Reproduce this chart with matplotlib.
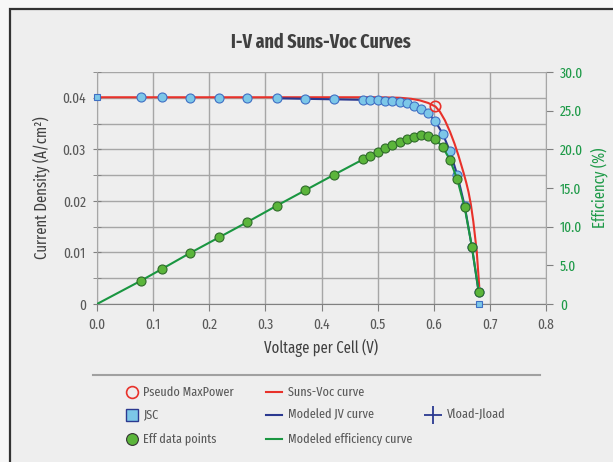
import matplotlib
matplotlib.use("Agg")
import matplotlib.pyplot as plt
from matplotlib import font_manager
from matplotlib.lines import Line2D
from matplotlib.patches import Rectangle

_avail = {f.name for f in font_manager.fontManager.ttflist}
_cands = ['Fira Sans Extra Condensed', 'Barlow Condensed', 'Fira Sans Condensed',
          'Archivo Narrow', 'Liberation Sans Narrow', 'Liberation Sans']
FONT = next((c for c in _cands if c in _avail), 'DejaVu Sans')
plt.rcParams['font.family'] = [FONT, 'DejaVu Sans']

# ---- data ----
jv_v = [0.078, 0.115, 0.166, 0.217, 0.268, 0.320, 0.371, 0.422, 0.474, 0.487, 0.500,
        0.513, 0.526, 0.539, 0.552, 0.564, 0.577, 0.590, 0.603, 0.616, 0.629, 0.642,
        0.655, 0.668, 0.680]
jv_j = [0.0401, 0.0401, 0.0400, 0.0400, 0.0399, 0.0399, 0.0398, 0.0397, 0.0396, 0.0395,
        0.0395, 0.0394, 0.0393, 0.0391, 0.0389, 0.0385, 0.0379, 0.0370, 0.0354, 0.0330,
        0.0296, 0.0250, 0.0191, 0.0110, 0.0023]
eff_pts = [3.0, 4.5, 6.6, 8.6, 10.6, 12.7, 14.7, 16.7, 18.7, 19.2, 19.7, 20.2, 20.6,
           21.0, 21.4, 21.6, 21.8, 21.7, 21.3, 20.3, 18.6, 16.1, 12.5, 7.4, 1.6]

jsc_v = [0.0, 0.680]
jsc_j = [0.0401, 0.0]

pmax_v = [0.603]
pmax_j = [0.0384]

suns_v = [0.0, 0.30, 0.45, 0.50, 0.54, 0.56, 0.575, 0.59, 0.603, 0.611, 0.62,
          0.629, 0.637, 0.644, 0.653, 0.658, 0.662, 0.666, 0.6705, 0.6765, 0.681]
suns_j = [0.0401, 0.0401, 0.0401, 0.0401, 0.0400, 0.0398, 0.0395, 0.0390, 0.0383,
          0.0373, 0.0356, 0.0334, 0.0311, 0.0288, 0.0255, 0.0235, 0.0217, 0.0194,
          0.0160, 0.0103, 0.0035]

model_jv_v = jv_v[5:]
model_jv_j = jv_j[5:]

model_eff_v = [0.0] + jv_v
model_eff = [0.0] + eff_pts

x_ticks = [0.0, 0.1, 0.2, 0.3, 0.4, 0.5, 0.6, 0.7, 0.8]
y_ticks = [0, 0.01, 0.02, 0.03, 0.04]
y_tick_labels = ['0', '0.01', '0.02', '0.03', '0.04']
eff_ticks = [0, 5, 10, 15, 20, 25, 30]
eff_tick_labels = ['0', '5.0', '10.0', '15.0', '20.0', '25.0', '30.0']

# ---- colours ----
GRAY_TXT = '#595959'
GREEN_TXT = '#1e9a48'
GRID = '#a6a6a6'
RED = '#e8312a'
NAVY = '#2b3990'
GREEN_LINE = '#1a9641'
PT_BLUE_FACE = '#7cc7e8'
PT_BLUE_EDGE = '#3f6fc4'
PT_GREEN_FACE = '#5bb53b'
PT_GREEN_EDGE = '#2f6b2a'

W, H = 613, 462
fig = plt.figure(figsize=(W / 100, H / 100), dpi=100, facecolor='#f7f7f7')
fig.patches.append(Rectangle((10 / W, -0.1), 1.2, 1.1 - 9 / H, transform=fig.transFigure,
                             facecolor='#eeeeee', edgecolor='#333333', linewidth=1.6, zorder=-10))

def fx(px):
    return px / W

def fy(py):
    return 1 - py / H

ax = fig.add_axes([fx(97), fy(304), fx(546) - fx(97), fy(72) - fy(304)])
ax.set_zorder(1)
ax.set_facecolor('#eeeeee')
ax.set_xlim(0, 0.8)
ax.set_ylim(0, 0.045)
ax.set_xticks(x_ticks)
ax.set_xticklabels([f'{v:.1f}' for v in x_ticks])
ax.set_yticks(y_ticks)
ax.set_yticklabels(y_tick_labels)
ax.set_yticks([0.005, 0.015, 0.025, 0.035, 0.045], minor=True)
ax.grid(True, which='both', color=GRID, linewidth=1.0)
ax.set_axisbelow(True)
for s in ['top', 'right']:
    ax.spines[s].set_visible(False)
ax.spines['left'].set_color(GRID)
ax.spines['bottom'].set_color('#808080')
TICK_FS = 10.5
ax.tick_params(axis='x', colors=GRAY_TXT, labelsize=TICK_FS, length=5, direction='out',
               color='#808080', pad=5)
ax.tick_params(axis='y', which='both', colors=GRAY_TXT, labelsize=TICK_FS, length=6,
               direction='inout', color='#808080', pad=5)

ax2 = ax.twinx()
ax2.set_zorder(2)
ax2.set_ylim(0, 30)
ax2.set_yticks(eff_ticks)
ax2.set_yticklabels(eff_tick_labels)
for s in ['top', 'left', 'bottom']:
    ax2.spines[s].set_visible(False)
ax2.spines['right'].set_color(GRID)
ax2.tick_params(axis='y', colors=GREEN_TXT, labelsize=TICK_FS, length=5, direction='out',
                color='#808080', pad=5)

# curves & points
ax.plot(suns_v, suns_j, color=RED, lw=1.5, zorder=3)
ax.plot(model_jv_v, model_jv_j, color=NAVY, lw=1.5, zorder=4)
ax.plot(jv_v, jv_j, 'o', ms=6.5, mfc=PT_BLUE_FACE, mec=PT_BLUE_EDGE, mew=0.8, zorder=5)
ax.plot(jsc_v, jsc_j, 's', ms=5, mfc=PT_BLUE_FACE, mec=PT_BLUE_EDGE, mew=0.8, zorder=6, clip_on=False)
ax.plot(pmax_v, pmax_j, 'o', ms=7.5, mfc='none', mec=RED, mew=1.2, zorder=6)

ax2.plot(model_eff_v, model_eff, color=GREEN_LINE, lw=1.5, zorder=3)
ax2.plot(jv_v, eff_pts, 'o', ms=6.5, mfc=PT_GREEN_FACE, mec=PT_GREEN_EDGE, mew=0.8, zorder=4)

# labels
LAB_FS = 11.5
ax.set_xlabel('Voltage per Cell (V)', color='#404040', fontsize=LAB_FS, labelpad=5)
ax.set_ylabel('Current Density (A/cm²)', color='#404040', fontsize=LAB_FS, labelpad=9)
ax2.set_ylabel('Efficiency (%)', color=GREEN_TXT, fontsize=LAB_FS, labelpad=5)
fig.text(fx(321), fy(42), 'I-V and Suns-Voc Curves', ha='center', va='center',
         fontsize=14, fontweight='bold', color='#404040')

# legend
fig.add_artist(Line2D([fx(93), fx(540)], [fy(375), fy(375)], color='#a0a0a0', lw=1.5,
                      transform=fig.transFigure))
rows = [fy(392), fy(415), fy(439)]
leg_fs = 9.5

def legend_marker(x, y, **kw):
    fig.add_artist(Line2D([fx(x)], [y], transform=fig.transFigure, linestyle='none', **kw))

def legend_line(x0, x1, y, color):
    fig.add_artist(Line2D([fx(x0), fx(x1)], [y, y], transform=fig.transFigure, color=color, lw=1.5))

def legend_text(x, y, s):
    fig.text(fx(x), y, s, ha='left', va='center', fontsize=leg_fs, color=GRAY_TXT)

legend_marker(132, rows[0], marker='o', ms=8.5, mfc='none', mec=RED, mew=1.2)
legend_text(143, rows[0], 'Pseudo MaxPower')
legend_marker(132, rows[1], marker='s', ms=8.5, mfc=PT_BLUE_FACE, mec=NAVY, mew=1.0)
legend_text(143, rows[1], 'JSC')
legend_marker(132, rows[2], marker='o', ms=8.5, mfc=PT_GREEN_FACE, mec='#333333', mew=0.8)
legend_text(143, rows[2], 'Eff data points')

legend_line(266, 282, rows[0], RED)
legend_text(288, rows[0], 'Suns-Voc curve')
legend_line(266, 282, rows[1], NAVY)
legend_text(288, rows[1], 'Modeled JV curve')
legend_line(266, 282, rows[2], GREEN_LINE)
legend_text(288, rows[2], 'Modeled efficiency curve')

legend_marker(433, rows[1], marker='+', ms=13, mec=NAVY, mew=1.3)
legend_text(447, rows[1], 'Vload-Jload')

fig.savefig('out.png', dpi=100, facecolor=fig.get_facecolor())
